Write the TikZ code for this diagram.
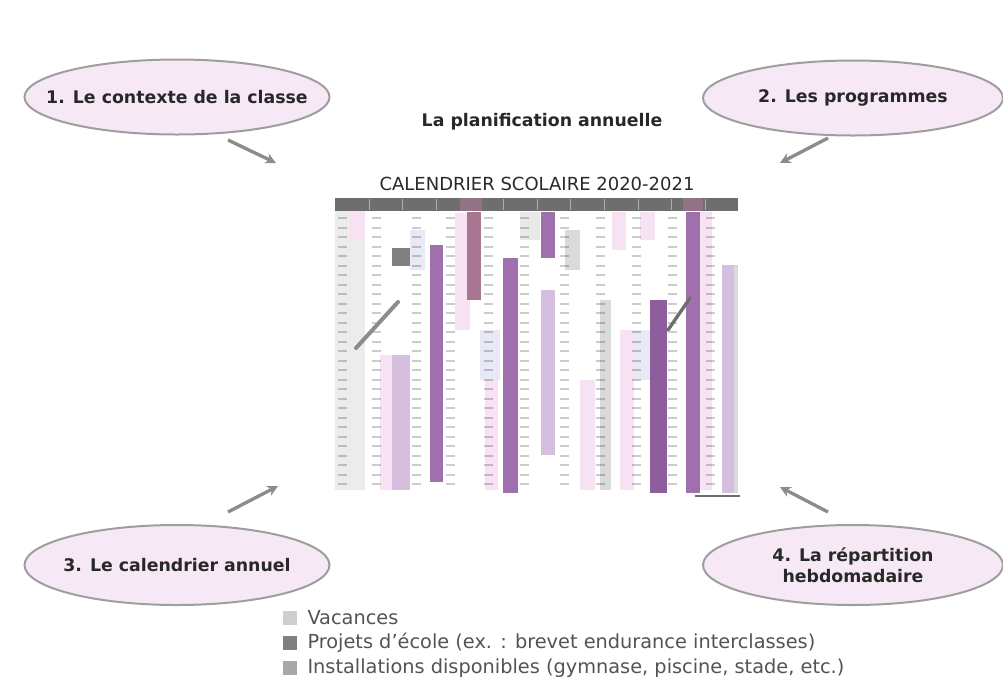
\documentclass[tikz,border=0pt]{standalone}
\usepackage{fontspec}
\setmainfont{DejaVu Sans}
\usetikzlibrary{shapes.geometric,arrows.meta}

\definecolor{bordgris}{RGB}{158,158,158}
\definecolor{fondbulle}{RGB}{246,233,245}
\definecolor{textegris}{RGB}{40,40,40}
\definecolor{flechegris}{RGB}{140,140,140}
\definecolor{entete}{RGB}{110,110,110}
\definecolor{violet}{RGB}{160,112,174}
\definecolor{violetfonce}{RGB}{142,94,156}
\definecolor{mauve}{RGB}{168,118,146}
\definecolor{violetclair}{RGB}{214,190,222}
\definecolor{roseclair}{RGB}{246,226,243}
\definecolor{bleuclair}{RGB}{232,232,246}
\definecolor{grisclair}{RGB}{218,218,218}
\definecolor{vacances}{RGB}{208,204,208}
\definecolor{projets}{RGB}{128,128,128}
\definecolor{installs}{RGB}{168,168,168}

\tikzset{every picture/.style={line width=0.75pt}}
\tikzset{
  bulle/.style={ellipse, draw=bordgris, fill=fondbulle, line width=1.5pt,
    minimum width=228.75pt, minimum height=56.25pt, inner xsep=-40pt, inner ysep=-12pt,
    font=\bfseries\fontsize{13}{15.5}\selectfont, text=textegris, align=center},
  fleche/.style={draw=flechegris, line width=2.5pt, -{Stealth[length=8pt,width=8pt]}},
  legende/.style={anchor=west, inner sep=0.75pt, font=\fontsize{14.5}{16}\selectfont, text=textegris!80},
  carre/.style={minimum size=10.5pt, inner sep=0pt}
}

\begin{document}
\begin{tikzpicture}[x=0.75pt,y=0.75pt,yscale=-1,xscale=1]
\useasboundingbox (0,0) rectangle (1003,690);

%Shape: Ellipse [id:bulle1]
\node [bulle] (contexte) at (177,97) {1. Le contexte de la classe};
%Shape: Ellipse [id:bulle2]
\node [bulle, minimum width=225pt] (programmes) at (853,98) {2. Les programmes};
%Shape: Ellipse [id:bulle3]
\node [bulle, minimum height=60pt] (calendrier) at (177,565) {3. Le calendrier annuel};
%Shape: Ellipse [id:bulle4]
\node [bulle, minimum width=225pt, minimum height=60pt] (repartition) at (853,565) {4. La répartition\\hebdomadaire};

% Text Node
\node [inner sep=0.75pt, font=\bfseries\fontsize{13}{15.5}\selectfont, text=textegris] (titre) at (542,122) {La planification annuelle};
% Text Node
\node [inner sep=0.75pt, font=\fontsize{13.5}{15.5}\selectfont, text=textegris] (titrecal) at (537,184) {CALENDRIER SCOLAIRE 2020-2021};

%Shape: Calendar header [id:entete]
\fill [entete] (335,198) rectangle (738,211) ;
\foreach \x in {369,402,436,470,503,537,570,604,638,671,705}
  \draw [white!45!entete] (\x,199) -- (\x,210) ;
\fill [mauve!60!entete] (460,198) rectangle (482,211) ;
\fill [mauve!60!entete] (683,198) rectangle (703,211) ;

%Shapes: light stripes
\fill [grisclair!50] (335,211) rectangle (365,490) ;
\fill [roseclair] (380,355) rectangle (392,490) ;
\fill [roseclair] (455,213) rectangle (470,330) ;
\fill [roseclair] (485,345) rectangle (498,490) ;
\fill [bleuclair] (410,230) rectangle (425,270) ;
\fill [bleuclair] (480,330) rectangle (500,380) ;
\fill [roseclair] (580,380) rectangle (595,490) ;
\fill [roseclair] (612,212) rectangle (626,250) ;
\fill [bleuclair] (632,330) rectangle (650,380) ;
\fill [roseclair] (620,330) rectangle (634,490) ;
\fill [grisclair] (600,300) rectangle (611,490) ;
\fill [grisclair] (565,230) rectangle (580,270) ;
\fill [grisclair!60] (520,212) rectangle (540,240) ;
\fill [roseclair] (350,212) rectangle (365,240) ;
\fill [violetclair] (541,290) rectangle (555,455) ;
\fill [violetclair] (392,355) rectangle (410,490) ;
\fill [violetclair] (722,265) rectangle (738,493) ;
\fill [grisclair] (734,265) rectangle (738,493) ;
\fill [roseclair] (700,212) rectangle (712,490) ;
\fill [roseclair] (640,212) rectangle (655,240) ;

%Shapes: purple stripes
\fill [violet] (430,245) rectangle (443,482) ;
\fill [mauve] (467,212) rectangle (481,300) ;
\fill [violet] (503,258) rectangle (518,493) ;
\fill [violet] (541,212) rectangle (555,258) ;
\fill [violetfonce] (650,300) rectangle (667,493) ;
\fill [violet] (686,212) rectangle (700,493) ;
\fill [projets] (392,248) rectangle (410,266) ;

%Day rows of the calendar
\foreach \x in {338,372,412,446,484,520,560,596,632,668,706}
  \foreach \y in {218,227.5,...,488}
    \draw [black, opacity=0.2, line width=1.5pt] (\x,\y) -- (\x+9,\y) ;

%Stamps on the calendar
\draw [flechegris, line width=3pt, line cap=round] (356,348) -- (398,302) ;
\draw [entete, line width=2.5pt, line cap=round] (668,330) -- (690,298) ;
\draw [entete, line width=2pt] (695,496) -- (740,496) ;

% Arrows towards the calendar
\coordinate (d1) at (228,140) ; \coordinate (f1) at (276,163) ;
\coordinate (d2) at (828,138) ; \coordinate (f2) at (780,163) ;
\coordinate (d3) at (228,512) ; \coordinate (f3) at (278,486) ;
\coordinate (d4) at (828,512) ; \coordinate (f4) at (780,487) ;
\draw [fleche] (d1) -- (f1) ;
\draw [fleche] (d2) -- (f2) ;
\draw [fleche] (d3) -- (f3) ;
\draw [fleche] (d4) -- (f4) ;

%Legend
\node [carre, fill=vacances] (cvac) at (290,618) {};
\node [legende] (lvac) at (306,618) {Vacances};
\node [carre, fill=projets] (cproj) at (290,643) {};
\node [legende] (lproj) at (306,643) {Projets d'école (ex. : brevet endurance interclasses)};
\node [carre, fill=installs] (cinst) at (290,668) {};
\node [legende] (linst) at (306,668) {Installations disponibles (gymnase, piscine, stade, etc.)};
\end{tikzpicture}
\end{document}
